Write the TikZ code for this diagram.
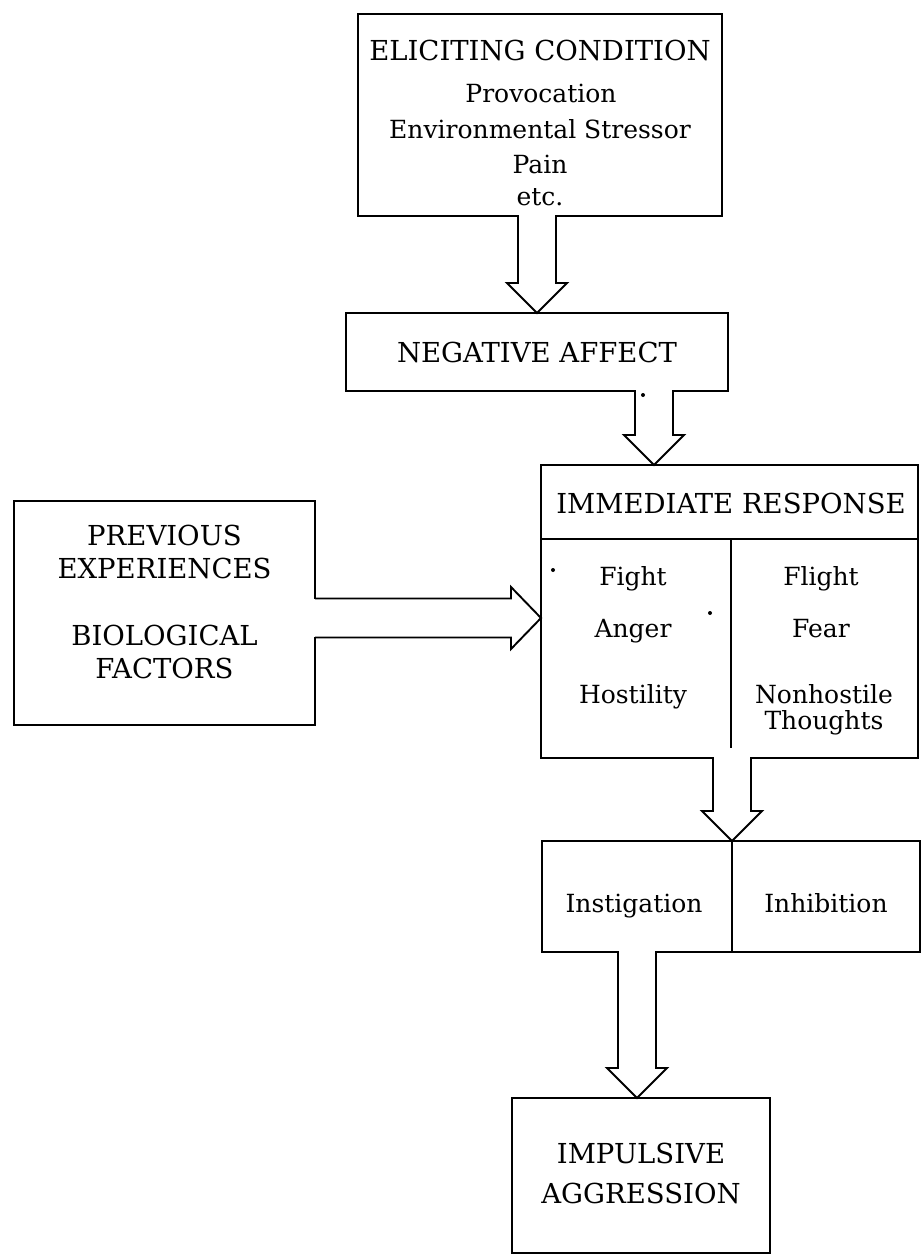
\documentclass[tikz,border=0pt]{standalone}
\usepackage{fontspec}
\setmainfont{DejaVu Serif}
\usetikzlibrary{calc}
\tikzset{
  box/.style={draw, line width=1.9pt, inner sep=0pt, outer sep=0pt},
  blockarrow/.style={draw, fill=white, line width=1.9pt, line join=miter},
  captxt/.style={inner sep=0pt, anchor=base, font=\fontsize{27.5}{33}\selectfont},
  lctxt/.style={inner sep=0pt, anchor=base, font=\fontsize{25}{30}\selectfont},
  speck/.style={fill=black, inner sep=0pt, minimum size=4pt, circle}
}
\newcommand\vblock[3][2]{%
  \fill[white] ($(#2 -| #3)+(-18.2,-#1)$) rectangle ($(#2 -| #3)+(18.2,1.5)$);
  \draw[blockarrow] ($(#2 -| #3)+(-19,0)$) -- ($(#3)+(-19,-30)$) -- ($(#3)+(-30,-30)$) -- (#3)
    -- ($(#3)+(30,-30)$) -- ($(#3)+(19,-30)$) -- ($(#2 -| #3)+(19,0)$);}
\begin{document}
\begin{tikzpicture}[x=1pt,y=-1pt]
\fill[white] (0,0) rectangle (924,1259);
\useasboundingbox (0,0) rectangle (924,1259);

% boxes
\node[box, minimum width=364pt, minimum height=202pt] (elicit) at (540,115) {};
\node[box, minimum width=382pt, minimum height=78pt] (neg) at (537,352) {};
\node[box, minimum width=377pt, minimum height=74pt] (resp) at (729.5,502) {};
\node[box, minimum width=190pt, minimum height=219pt] (fight) at (636,648.5) {};
\node[box, minimum width=187pt, minimum height=219pt] (flight) at (824.5,648.5) {};
\node[box, minimum width=301pt, minimum height=224pt] (prev) at (164.5,613) {};
\node[box, minimum width=190pt, minimum height=111pt] (inst) at (637,896.5) {};
\node[box, minimum width=188pt, minimum height=111pt] (inhib) at (826,896.5) {};
\node[box, minimum width=258pt, minimum height=155pt] (imp) at (641,1175.5) {};

% texts
\node[captxt] (t1) at (540,60) {ELICITING CONDITION};
\node[lctxt] (t2) at (541,102) {Provocation};
\node[lctxt] (t3) at (540,138) {Environmental Stressor};
\node[lctxt] (t4) at (540,173) {Pain};
\node[lctxt] (t5) at (540,205) {etc.};
\node[captxt] (t6) at (537,362) {NEGATIVE AFFECT};
\node[captxt] (t7) at (731,513) {IMMEDIATE RESPONSE};
\node[lctxt] (t8) at (633,585) {Fight};
\node[lctxt] (t9) at (633,637) {Anger};
\node[lctxt] (t10) at (633,703) {Hostility};
\node[lctxt] (t11) at (821,585) {Flight};
\node[lctxt] (t12) at (821,637) {Fear};
\node[lctxt, anchor=north, align=center, font=\fontsize{25}{26.5}\selectfont] (t13) at (824,684) {Nonhostile\\Thoughts};
\node[captxt] (t15) at (164.5,545) {PREVIOUS};
\node[captxt] (t16) at (164.5,578) {EXPERIENCES};
\node[captxt] (t17) at (164.5,645) {BIOLOGICAL};
\node[captxt] (t18) at (164.5,678) {FACTORS};
\node[lctxt] (t19) at (634,912) {Instigation};
\node[lctxt] (t20) at (826,912) {Inhibition};
\node[captxt] (t21) at (641,1163) {IMPULSIVE};
\node[captxt] (t22) at (641,1203) {AGGRESSION};

% tips
\coordinate (tipA) at (neg.north);
\coordinate (tipB) at ($(resp.north)+(-75.5,0)$);
\coordinate (tipC) at (inst.north east);
\coordinate (tipD) at (inst.south |- imp.north);
\coordinate (tipE) at ($(fight.west)+(0,-30.5)$);

% block arrows
\vblock{elicit.south}{tipA}
\vblock{neg.south}{tipB}
\vblock[10]{fight.south}{tipC}
\vblock{inst.south}{tipD}
\fill[white] ($(prev.east |- tipE)+(-2,-18.7)$) rectangle ($(prev.east |- tipE)+(1.5,18.7)$);
\draw[blockarrow] ($(prev.east |- tipE)+(0,-19.5)$) -- ($(tipE)+(-30,-19.5)$) -- ($(tipE)+(-30,-31)$) -- (tipE)
  -- ($(tipE)+(-30,31)$) -- ($(tipE)+(-30,19.5)$) -- ($(prev.east |- tipE)+(0,19.5)$);

% specks
\node[speck] (d1) at (643,395) {};
\node[speck] (d2) at (553,570) {};
\node[speck] (d3) at (710,613) {};
\end{tikzpicture}
\end{document}
